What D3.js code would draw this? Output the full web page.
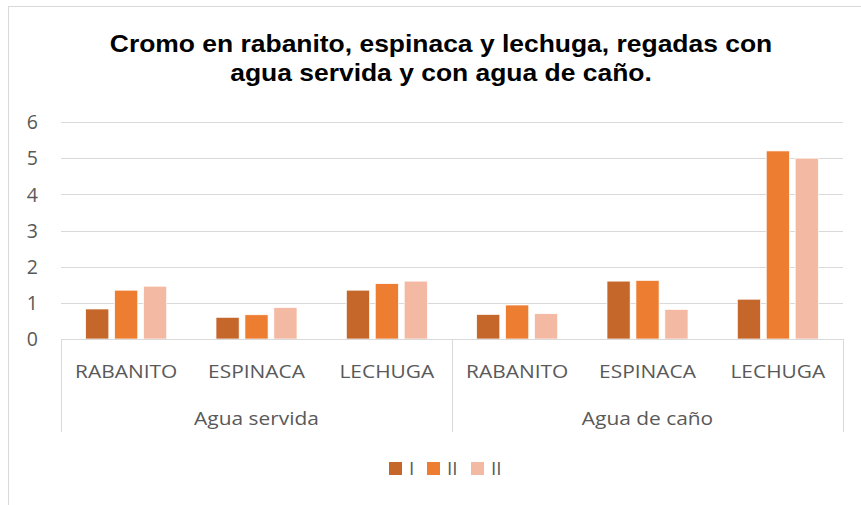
<!DOCTYPE html>
<html lang="es">
<head>
<meta charset="utf-8">
<script src="https://d3js.org/d3.v7.min.js"></script>
<style>
  body { margin: 0; background: #fff; }
  svg text { font-family: "Open Sans", "Noto Sans", sans-serif; fill: #595959; }
</style>
</head>
<body>
<div id="chart"></div>
<script>
// data
var groups = ["Agua servida", "Agua de caño"];
var crops = ["RABANITO", "ESPINACA", "LECHUGA"];
var seriesNames = ["I", "II", "II"];
var serieI   = [0.83, 0.60, 1.35, 0.68, 1.60, 1.10];
var serieII  = [1.35, 0.67, 1.53, 0.94, 1.62, 5.20];
var serieIII = [1.46, 0.87, 1.60, 0.70, 0.82, 5.00];
var yTicks = [0, 1, 2, 3, 4, 5, 6];
var colors = ["#C5672B", "#ED7D31", "#F4B9A3"];

var W = 861, H = 505;
var svg = d3.select("#chart").append("svg").attr("width", W).attr("height", H);

// outer chart frame
svg.append("rect").attr("x", 8.5).attr("y", 6.5).attr("width", W + 10).attr("height", H + 10)
  .attr("fill", "none").attr("stroke", "#D9D9D9");

// title
var title = svg.append("text").attr("text-anchor", "middle")
  .style("font-family", "'Liberation Sans', Arial, sans-serif")
  .style("font-weight", "bold").style("font-size", "23px").style("fill", "#000")
  .attr("transform", "translate(441,0) scale(1.15,1)");
title.append("tspan").attr("x", 0).attr("y", 52).text("Cromo en rabanito, espinaca y lechuga, regadas con");
title.append("tspan").attr("x", 0).attr("y", 81).text("agua servida y con agua de caño.");

// rows: one per group x crop
var rows = [];
groups.forEach(function (g, gi) {
  crops.forEach(function (c, ci) {
    var i = gi * crops.length + ci;
    rows.push({ key: g + "|" + c, group: g, crop: c, vals: [serieI[i], serieII[i], serieIII[i]] });
  });
});

var left = 61, right = 843, top0 = 122, bottom0 = 339;
var x = d3.scaleBand().domain(rows.map(function (d) { return d.key; })).range([left, right]).paddingInner(0).paddingOuter(0);
var xs = d3.scaleBand().domain([0, 1, 2]).range([0, 81]).paddingInner(0.2);
var y = d3.scaleLinear().domain([0, 6]).range([bottom0, top0]);

// gridlines
svg.append("g").selectAll("line").data(yTicks.slice(1)).join("line")
  .attr("x1", left).attr("x2", right)
  .attr("y1", function (d) { return Math.round(y(d)) + 0.5; })
  .attr("y2", function (d) { return Math.round(y(d)) + 0.5; })
  .attr("stroke", "#D9D9D9").attr("stroke-width", 1);

// y axis labels
var yAxis = d3.axisLeft(y).tickValues(yTicks).tickFormat(d3.format("d")).tickSize(0).tickPadding(0);
var yg = svg.append("g").attr("transform", "translate(" + (left - 23) + ",0)").call(yAxis);
yg.select(".domain").remove();
yg.selectAll("text").style("font-size", "19.5px").attr("dy", "0.35em");

// bars
var cat = svg.append("g").selectAll("g").data(rows).join("g")
  .attr("transform", function (d) { return "translate(" + (x(d.key) + (x.bandwidth() - 81) / 2) + ",0)"; });
cat.selectAll("rect").data(function (d) { return d.vals; }).join("rect")
  .attr("x", function (d, i) { return xs(i); })
  .attr("width", xs.bandwidth())
  .attr("y", function (d) { return y(d); })
  .attr("height", function (d) { return y(0) - y(d); })
  .attr("fill", function (d, i) { return colors[i]; })
  .attr("stroke", "#fff").attr("stroke-width", 0.7);

// category axis
var axisBottom = 432;
svg.append("line").attr("x1", left).attr("x2", right).attr("y1", bottom0 + 0.5).attr("y2", bottom0 + 0.5)
  .attr("stroke", "#D9D9D9");
var groupEdges = [left].concat(groups.map(function (g, gi) { return x(rows[gi * crops.length + crops.length - 1].key) + x.bandwidth(); }));
svg.append("g").selectAll("line").data(groupEdges).join("line")
  .attr("x1", function (d) { return Math.round(d) + 0.5; }).attr("x2", function (d) { return Math.round(d) + 0.5; })
  .attr("y1", bottom0).attr("y2", axisBottom).attr("stroke", "#D9D9D9");

svg.append("g").selectAll("text").data(rows).join("text")
  .attr("transform", function (d) { return "translate(" + (x(d.key) + x.bandwidth() / 2) + ",378) scale(1.1,1)"; })
  .attr("text-anchor", "middle").style("font-size", "19px")
  .text(function (d) { return d.crop; });

svg.append("g").selectAll("text").data(groups).join("text")
  .attr("transform", function (d, gi) { return "translate(" + ((groupEdges[gi] + groupEdges[gi + 1]) / 2) + ",425) scale(1.1,1)"; })
  .attr("text-anchor", "middle").style("font-size", "19px")
  .text(function (d) { return d; });

// legend
var legX = [389, 427, 471];
var leg = svg.append("g").selectAll("g").data(seriesNames).join("g")
  .attr("transform", function (d, i) { return "translate(" + legX[i] + ",462)"; });
leg.append("rect").attr("width", 13).attr("height", 13).attr("fill", function (d, i) { return colors[i]; });
leg.append("text").attr("x", 20).attr("y", 13).style("font-size", "19px").text(function (d) { return d; });
</script>
</body>
</html>
